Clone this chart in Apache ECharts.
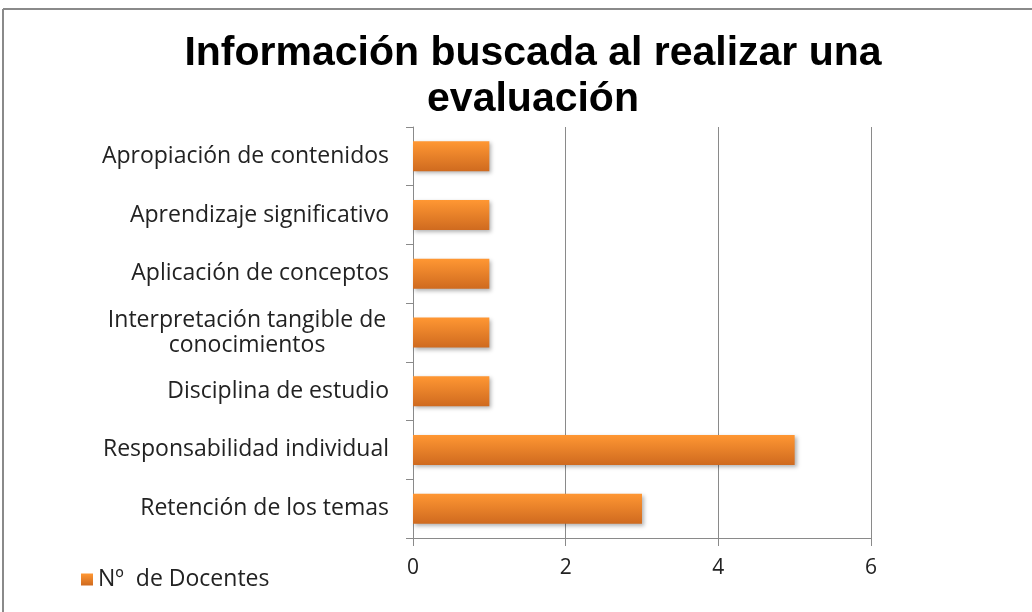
<!DOCTYPE html>
<html>
<head>
<meta charset="utf-8">
<script src="https://cdn.jsdelivr.net/npm/echarts@6/dist/echarts.min.js"></script>
<style>
  html, body { margin: 0; padding: 0; background: #fff; }
  #chart { width: 1032px; height: 612px; }
</style>
</head>
<body>
<div id="chart"></div>
<script>
// datos: categorías de arriba hacia abajo y número de docentes
var categorias = [
    'Apropiación de contenidos',
    'Aprendizaje significativo',
    'Aplicación de conceptos',
    'Interpretación tangible de\nconocimientos',
    'Disciplina de estudio',
    'Responsabilidad individual',
    'Retención de los temas'
];
var docentes = [1, 1, 1, 1, 1, 5, 3];
var ticksX = [0, 2, 4, 6];
var nombreSerie = 'Nº  de Docentes';

var myChart = echarts.init(document.getElementById('chart'));

var barColor = new echarts.graphic.LinearGradient(0, 0, 0, 1, [
    {offset: 0, color: '#ff9733'},
    {offset: 1, color: '#cf6a1f'}
]);

option = {
    backgroundColor: '#fff',
    animation: false,
    title: {
        text: 'Información buscada al realizar una\nevaluación',
        left: 528,
        textAlign: 'center',
        top: 26,
        textStyle: {
            fontFamily: 'Liberation Sans, sans-serif',
            fontWeight: 'bold',
            fontSize: 41,
            lineHeight: 46,
            color: '#000'
        }
    },
    legend: {
        left: 76,
        top: 563,
        itemWidth: 12,
        itemHeight: 12,
        itemGap: 8,
        textStyle: {fontFamily: 'Open Sans', fontSize: 23, color: '#222'},
        data: [{name: nombreSerie, icon: 'rect'}]
    },
    grid: {left: 413, right: 161, top: 127, bottom: 74, containLabel: false},
    xAxis: {
        type: 'value',
        min: ticksX[0],
        max: ticksX[ticksX.length - 1],
        interval: 2,
        axisLine: {show: true, lineStyle: {color: '#8a8a8a', width: 1}},
        axisTick: {show: true, length: 8, lineStyle: {color: '#8a8a8a'}},
        splitLine: {show: true, lineStyle: {color: '#8a8a8a', width: 1}},
        axisLabel: {
            margin: 20,
            fontFamily: 'Open Sans',
            fontSize: 21,
            color: '#222'
        }
    },
    yAxis: {
        type: 'category',
        inverse: true,
        data: categorias,
        axisLine: {show: true, lineStyle: {color: '#8a8a8a', width: 1}},
        axisTick: {show: true, length: 7, lineStyle: {color: '#8a8a8a'}},
        axisLabel: {
            margin: 24,
            fontFamily: 'Open Sans',
            fontSize: 23,
            color: '#222',
            lineHeight: 25,
            formatter: function (v) {
                if (v.indexOf('\n') < 0) return v;
                return v.split('\n').map(function (s) { return '{c|' + s + '}'; }).join('\n');
            },
            rich: {
                c: {
                    width: 284,
                    align: 'center',
                    fontFamily: 'Open Sans',
                    fontSize: 23,
                    lineHeight: 25,
                    color: '#222'
                }
            }
        }
    },
    series: [
        {
            name: nombreSerie,
            type: 'bar',
            barWidth: 30,
            data: docentes,
            itemStyle: {
                color: barColor,
                shadowColor: 'rgba(0,0,0,0.3)',
                shadowBlur: 4,
                shadowOffsetX: 2,
                shadowOffsetY: 2
            }
        }
    ],
    graphic: [
        {type: 'line', shape: {x1: 3, y1: 9, x2: 1032, y2: 9}, style: {stroke: '#8a8a8a', lineWidth: 2}},
        {type: 'line', shape: {x1: 3, y1: 9, x2: 3, y2: 612}, style: {stroke: '#8a8a8a', lineWidth: 2}}
    ]
};

myChart.setOption(option, true);
</script>
</body>
</html>
